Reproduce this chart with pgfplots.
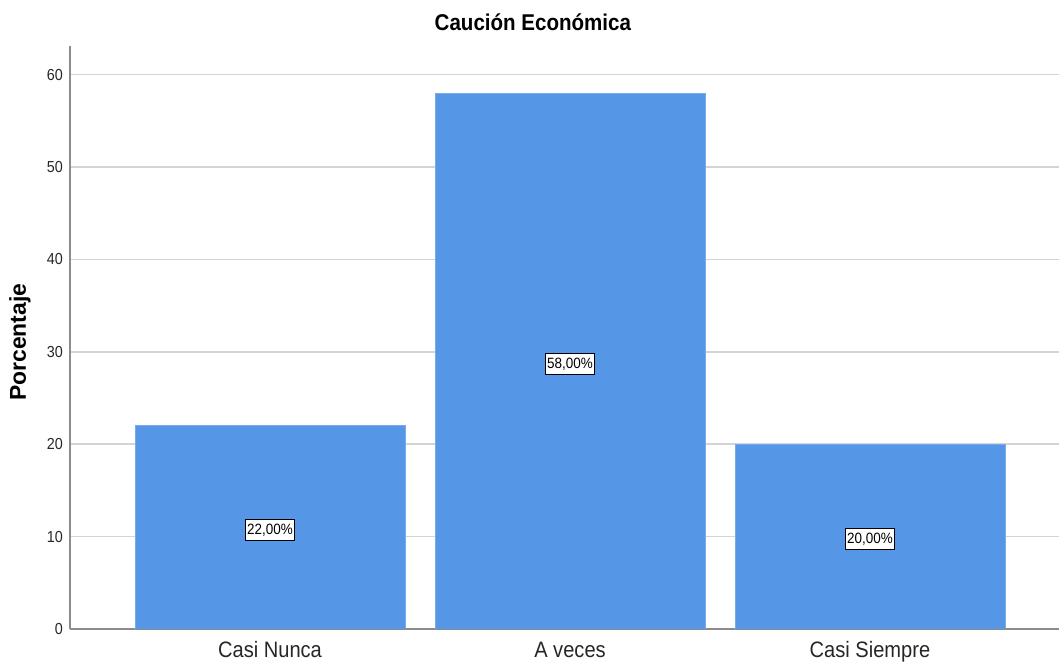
\documentclass[border=0pt]{standalone}
\usepackage{pgfplots}
\pgfplotsset{compat=1.18}
\usepackage{fontspec}
\setmainfont{Liberation Sans}
\newfontfamily\nfont[FakeStretch=0.9]{Liberation Sans}
\definecolor{barblue}{RGB}{85,150,230}
\definecolor{gridgray}{RGB}{212,212,212}
\definecolor{axisgray}{RGB}{140,140,140}
\begin{document}
\begin{tikzpicture}
\begin{axis}[
  name=a,
  scale only axis,
  width=989bp, height=583bp,
  xmin=-0.6667, xmax=2.63,
  ymin=0, ymax=63.1,
  axis lines=left,
  axis line style={draw=axisgray, line width=1.6bp, -},
  xtick={0,1,2},
  xticklabels={Casi Nunca, A veces, Casi Siempre},
  ytick={0,10,20,30,40,50,60},
  major tick length=0pt,
  tick style={draw=none},
  ymajorgrids,
  grid style={draw=gridgray, line width=1.6bp},
  /pgf/number format/assume math mode=true,
  xticklabel style={font=\nfont\fontsize{22.4}{22.4}\selectfont, text=black!85, anchor=base, yshift=-29bp, inner sep=0pt},
  yticklabel style={font=\nfont\fontsize{16}{16}\selectfont, text=black!85, anchor=east, xshift=-7bp, inner sep=0pt},
  every axis title shift/.style={},
  title={Caución Económica},
  title style={font=\nfont\bfseries\fontsize{22.9}{22.9}\selectfont, at={(axis description cs:0.468,1)}, anchor=base, yshift=10bp, inner sep=0pt},
  ylabel={Porcentaje},
  ylabel style={font=\bfseries\fontsize{23}{23}\selectfont, at={(axis description cs:-0.0506,0.492)}, anchor=center, inner sep=0pt},
]
\addplot[ybar, bar width=270bp, fill=barblue, draw=barblue!80!white, line width=0.6bp] coordinates {(0,22) (1,58) (2,20)};
\addplot[draw=none, mark=none, point meta=explicit symbolic,
  nodes near coords, nodes near coords align={center},
  every node near coord/.append style={font=\nfont\fontsize{15}{15}\selectfont, fill=white, draw=black, line width=0.9bp, inner xsep=1.5bp, inner ysep=4.3bp, text height=10.5bp, text depth=2bp, anchor=center}]
  coordinates {(0,10.7)[22,00\%] (1,28.7)[58,00\%] (2,9.7)[20,00\%]};
\end{axis}
\pgfresetboundingbox
\path[use as bounding box] (a.south west) ++(-70bp,-35bp) rectangle ++(1059bp,664bp);
\end{tikzpicture}
\end{document}
